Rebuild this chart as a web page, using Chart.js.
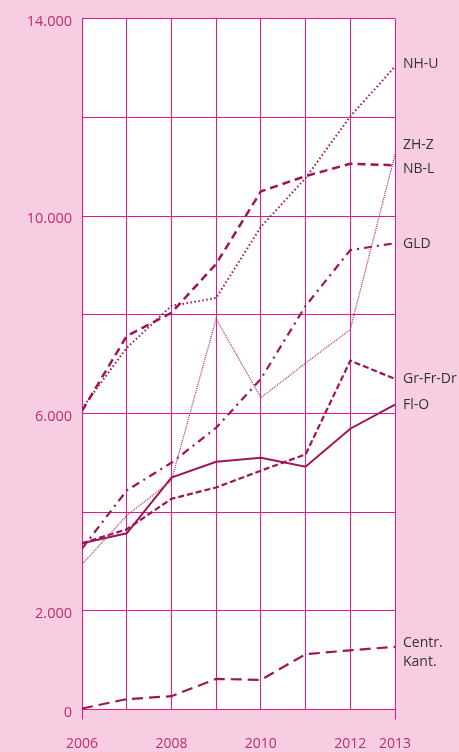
<!DOCTYPE html>
<html><head><meta charset="utf-8">
<script src="https://cdn.jsdelivr.net/npm/chart.js@4/dist/chart.umd.min.js"></script>
<style>
html,body{margin:0;padding:0;background:#f7cde2;}
#wrap{width:459px;height:752px;position:relative;}
</style></head>
<body><div id="wrap"><canvas id="c" width="459" height="752"></canvas></div>
<script>
const years = [2006, 2007, 2008, 2009, 2010, 2011, 2012, 2013];
const xTickLabels = [2006, 2008, 2010, 2012, 2013];
const yTickLabels = [0, 2000, 6000, 10000, 14000];
const nhU   = [6100, 7330, 8180, 8340, 9780, 10770, 12020, 13030];
const zhZ   = [2940, 3930, 4640, 7920, 6320, 7020, 7700, 11250];
const nbL   = [6050, 7570, 8040, 9030, 10500, 10810, 11060, 11030];
const gld   = [3260, 4440, 5000, 5710, 6700, 8180, 9310, 9450];
const grFrDr= [3370, 3650, 4270, 4500, 4840, 5170, 7070, 6700];
const flO   = [3370, 3570, 4700, 5020, 5100, 4920, 5690, 6180];
const centr = [20, 210, 270, 620, 600, 1120, 1200, 1270];
const seriesNames = ['NH-U', 'ZH-Z', 'NB-L', 'GLD', 'Gr-Fr-Dr', 'Fl-O', 'Centr. Kant.'];
// right-hand label text and the value level where it sits
const endLabels = [
  ['NH-U', 13090], ['ZH-Z', 11430], ['NB-L', 10950], ['GLD', 9430],
  ['Gr-Fr-Dr', 6700], ['Fl-O', 6180], ['Centr.', 1345], ['Kant.', 960]
];

const LINE = '#9e1459';
const GRID = '#e8168a';
const TXT = '#bb2f6e';

function pts(arr){ return arr.map((v,i)=>({x:years[i], y:v})); }

const styles = [
  {data: nhU, borderWidth: 2, borderDash: [1.5, 2.5]},
  {data: zhZ, borderWidth: 1.3, borderDash: [1, 1], color:'#b0357a'},
  {data: nbL, borderWidth: 2.5, borderDash: [8, 5]},
  {data: gld, borderWidth: 2.2, borderDash: [8, 5, 2, 5]},
  {data: grFrDr, borderWidth: 2.2, borderDash: [6, 3]},
  {data: flO, borderWidth: 2},
  {data: centr, borderWidth: 2.2, borderDash: [11, 6]}
];

const datasets = styles.map((s, i) => ({
  label: seriesNames[i],
  data: pts(s.data),
  borderColor: s.color || LINE,
  borderWidth: s.borderWidth,
  borderDash: s.borderDash || [],
  pointRadius: 0,
  tension: 0,
  fill: false
}));

const fmt = v => v === 0 ? '0' : String(v).replace(/\B(?=(\d{3})+(?!\d))/g, '.');

const endLabelPlugin = {
  id: 'endLabels',
  afterDatasetsDraw(chart) {
    const ctx = chart.ctx, y = chart.scales.y, area = chart.chartArea;
    ctx.save();
    ctx.fillStyle = '#333333';
    ctx.font = '14px "Open Sans"';
    ctx.textBaseline = 'middle';
    ctx.textAlign = 'left';
    endLabels.forEach(([t, v]) => ctx.fillText(t, area.right + 8, y.getPixelForValue(v)));
    ctx.restore();
  }
};

const whiteArea = {
  id: 'whiteArea',
  beforeDraw(chart) {
    const {ctx, chartArea: a} = chart;
    ctx.save();
    ctx.fillStyle = '#ffffff';
    ctx.fillRect(a.left, a.top, a.right - a.left, a.bottom - a.top);
    ctx.restore();
  }
};

new Chart(document.getElementById('c'), {
  type: 'line',
  data: { datasets },
  plugins: [whiteArea, endLabelPlugin],
  options: {
    responsive: false,
    animation: false,
    layout: { padding: { top: 17, right: 64, left: 0, bottom: 0 } },
    plugins: { legend: { display: false }, tooltip: { enabled: false } },
    scales: {
      x: {
        type: 'linear', min: 2006, max: 2013,
        afterBuildTicks: s => { s.ticks = years.map(v => ({value: v})); },
        afterFit: s => { s.height = 42.5; },
        grid: {
          color: GRID, lineWidth: 1, tickLength: 10,
          tickColor: c => (c.tick && (c.tick.value === 2006 || c.tick.value === 2013)) ? GRID : 'rgba(0,0,0,0)'
        },
        border: { color: GRID, width: 1 },
        ticks: {
          padding: 16, color: TXT, maxRotation: 0, autoSkip: false,
          font: { family: '"Open Sans"', size: 14 },
          callback: v => xTickLabels.includes(v) ? String(v) : ''
        }
      },
      y: {
        min: 0, max: 14000,
        afterBuildTicks: s => { s.ticks = [0,2000,4000,6000,8000,10000,12000,14000].map(v => ({value: v})); },
        afterFit: s => { s.width = 82; },
        grid: { color: GRID, lineWidth: 1, drawTicks: false },
        border: { color: GRID, width: 1 },
        ticks: {
          padding: 10, color: TXT, labelOffset: 3,
          font: { family: '"Open Sans"', size: 14.5 },
          callback: v => yTickLabels.includes(v) ? fmt(v) : ''
        }
      }
    }
  }
});
</script></body></html>
